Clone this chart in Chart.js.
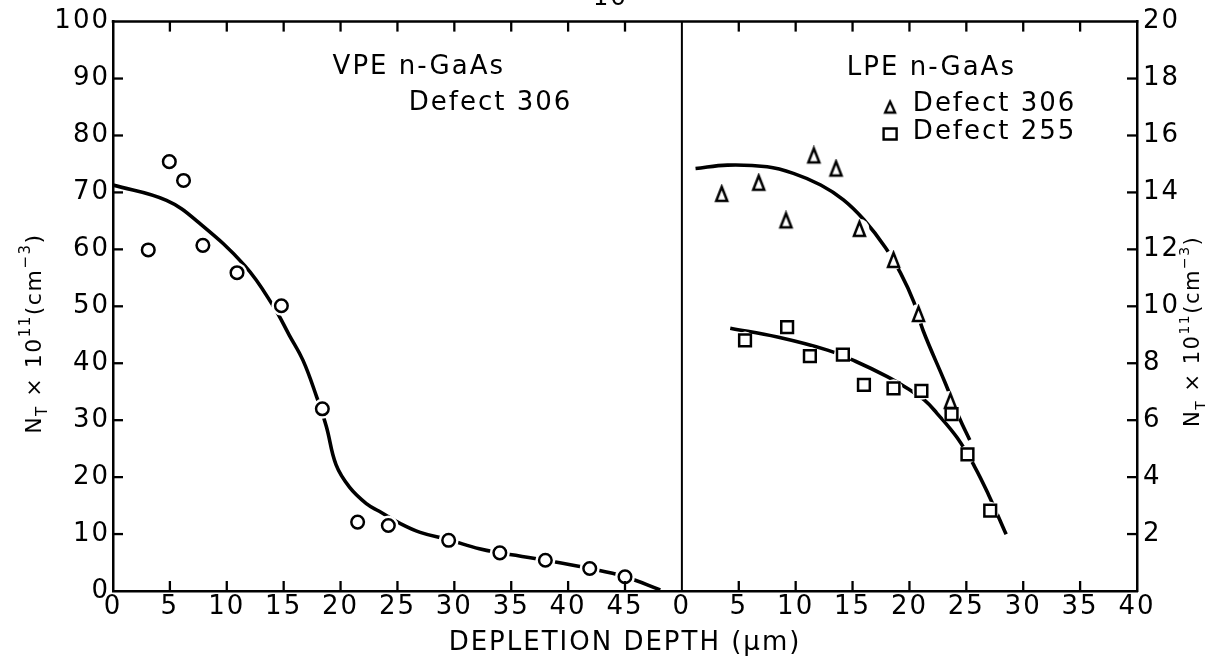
<!DOCTYPE html>
<html>
<head>
<meta charset="utf-8">
<script src="https://cdn.jsdelivr.net/npm/chart.js@4.4.1/dist/chart.umd.min.js"></script>
<style>
html,body{margin:0;padding:0;background:#fff;overflow:hidden}
#wrap{width:1211px;height:664px}
</style>
</head>
<body>
<div id="wrap"><canvas id="c" width="1211" height="664"></canvas></div>
<script>
// ---------------- data ----------------
// Left panel: VPE n-GaAs, Defect 306 (depth in µm, N_T in 1e11 cm^-3, left axis 0-100)
const vpeDepth = [3.1, 4.95, 6.2, 7.9, 10.9, 14.8, 18.4, 21.5, 24.2, 29.5, 34.0, 38.0, 41.9, 45.0];
const vpeNT    = [59.9, 75.4, 72.1, 60.7, 55.9, 50.1, 32.0, 12.1, 11.5, 8.9, 6.7, 5.4, 3.95, 2.5];
const vpeFitDepth = [0, 4.7, 7.6, 11.6, 14.1, 15.5, 16.7, 17.9, 18.75, 19.6, 20.8, 22.3, 23.4, 25.3, 27.0, 29.5, 32.2, 34.0, 38.0, 41.9, 45.0, 48.1];
const vpeFitNT    = [71.3, 68.6, 64.6, 57.1, 50.0, 44.9, 40.5, 34.1, 28.9, 22.2, 18.2, 15.3, 14.0, 11.8, 10.3, 9.0, 7.4, 6.7, 5.4, 3.95, 2.5, 0.2];

// Right panel: LPE n-GaAs (depth in µm, N_T in 1e11 cm^-3, right axis 0-20)
const lpe306Depth = [3.5, 6.75, 9.15, 11.6, 13.55, 15.6, 18.6, 20.8, 23.6];
const lpe306NT    = [13.95, 14.34, 13.02, 15.3, 14.84, 12.72, 11.63, 9.73, 6.68];
const lpe306FitDepth = [1.2, 4.0, 7.5, 9.8, 12.2, 14.2, 16.0, 17.9, 19.2, 20.4, 21.2, 23.1, 24.4, 25.3];
const lpe306FitNT    = [14.84, 14.96, 14.9, 14.67, 14.26, 13.74, 13.04, 12.06, 11.18, 10.14, 9.15, 7.35, 6.07, 5.3];

const lpe255Depth = [5.55, 9.25, 11.25, 14.15, 16.0, 18.6, 21.05, 23.7, 25.1, 27.1];
const lpe255NT    = [8.8, 9.27, 8.25, 8.3, 7.24, 7.12, 7.03, 6.21, 4.8, 2.82];
const lpe255FitDepth = [4.25, 8.4, 12.8, 15.25, 18.05, 19.8, 21.3, 22.4, 24.2, 25.7, 27.0, 28.5];
const lpe255FitNT    = [9.23, 8.92, 8.46, 8.07, 7.53, 7.12, 6.71, 6.25, 5.38, 4.39, 3.34, 1.99];

// axes / ticks
const leftPanelMax = 50;   // left panel spans 0-50 µm, right panel 0-40 µm
const rightPanelMax = 40;
const xStep = 5;
const leftYMax = 100, leftYStep = 10;
const rightYMax = 20, rightYStep = 2;

// texts
const xTitle = 'DEPLETION DEPTH (\u03bcm)';
const yTitleParts = ['N', 'T', ' \u00d7 10', '11', '(cm', '\u22123', ')'];
const vpeLabels = ['VPE n-GaAs', 'Defect 306'];
const lpeLabel = 'LPE n-GaAs';
const legendLabels = ['Defect 306', 'Defect 255'];
const pageNumber = '16';

// ---------------- chart ----------------
const FONT = '"DejaVu Sans", "Liberation Sans", sans-serif';
const pts = (xs, ys, off) => xs.map((v, i) => ({ x: v + off, y: ys[i] }));

function makeTriangle(w, h, lw) {
  const c = document.createElement('canvas');
  const pad = Math.ceil(lw);
  c.width = Math.ceil(w + 2 * pad);
  c.height = Math.ceil(h + 2 * pad);
  const g = c.getContext('2d');
  g.lineWidth = lw; g.lineJoin = 'miter';
  g.strokeStyle = '#000'; g.fillStyle = '#fff';
  g.beginPath();
  g.moveTo(c.width / 2, pad);
  g.lineTo(c.width / 2 + w / 2, pad + h);
  g.lineTo(c.width / 2 - w / 2, pad + h);
  g.closePath();
  g.fill(); g.stroke();
  return c;
}
const triImg = makeTriangle(11, 14, 2.5);
const triLegendImg = makeTriangle(10, 11, 2.3);

const lineDs = (data, axis) => ({
  data, yAxisID: axis, showLine: true, borderColor: '#000', borderWidth: 3.6,
  pointRadius: 0, fill: false, tension: 0.4, order: 5
});
const haloDs = (data, axis, r) => ({
  data, yAxisID: axis, showLine: false, pointRadius: r, pointBorderWidth: 0,
  pointBackgroundColor: '#fff', pointBorderColor: '#fff', order: 3
});
const markDs = (data, axis, style, r) => ({
  data, yAxisID: axis, showLine: false, pointStyle: style, pointRadius: r,
  pointBorderWidth: 2.5, pointBorderColor: '#000', pointBackgroundColor: '#fff', order: 1
});

const vpePts = pts(vpeDepth, vpeNT, 0);
const l306Pts = pts(lpe306Depth, lpe306NT, leftPanelMax);
const l255Pts = pts(lpe255Depth, lpe255NT, leftPanelMax);

const datasets = [
  lineDs(pts(vpeFitDepth, vpeFitNT, 0), 'y'),
  lineDs(pts(lpe306FitDepth, lpe306FitNT, leftPanelMax), 'y2'),
  lineDs(pts(lpe255FitDepth, lpe255FitNT, leftPanelMax), 'y2'),
  haloDs(vpePts, 'y', 10),
  haloDs(l306Pts, 'y2', 10),
  haloDs(l255Pts, 'y2', 9),
  markDs(vpePts, 'y', 'circle', 6.3),
  markDs(l306Pts, 'y2', triImg, 7),
  markDs(l255Pts, 'y2', 'rect', 8.3)
];

const spacingPlugin = {
  id: 'spacing',
  beforeUpdate(chart) { chart.ctx.letterSpacing = '2px'; },
  beforeDraw(chart) {
    const ctx = chart.ctx;
    ctx.letterSpacing = '2px';
    ctx.save();
    ctx.fillStyle = '#fff';
    ctx.fillRect(0, 0, chart.width, chart.height);
    ctx.restore();
  }
};

function drawRich(ctx, parts, cx, cy, size) {
  const small = Math.round(size * 0.66);
  const spec = [
    { f: size, dy: 0 }, { f: small, dy: size * 0.27 }, { f: size, dy: 0 },
    { f: small, dy: -size * 0.5 }, { f: size, dy: 0 }, { f: small, dy: -size * 0.5 }, { f: size, dy: 0 }
  ];
  ctx.save();
  ctx.letterSpacing = '1.5px';
  ctx.translate(cx, cy);
  ctx.rotate(-Math.PI / 2);
  ctx.fillStyle = '#000';
  ctx.textBaseline = 'alphabetic';
  ctx.textAlign = 'left';
  let total = 0;
  const widths = parts.map((t, i) => {
    ctx.font = spec[i].f + 'px ' + FONT;
    const w = ctx.measureText(t).width;
    total += w;
    return w;
  });
  let xx = -total / 2;
  parts.forEach((t, i) => {
    ctx.font = spec[i].f + 'px ' + FONT;
    ctx.fillText(t, xx, spec[i].dy);
    xx += widths[i];
  });
  ctx.restore();
}

const framePlugin = {
  id: 'frame',
  afterDraw(chart) {
    const { ctx, chartArea: { left, right, top, bottom }, scales: { x, y, y2 } } = chart;
    ctx.save();
    ctx.strokeStyle = '#000';
    ctx.fillStyle = '#000';
    const seg = (x1, y1, x2, y2_) => { ctx.beginPath(); ctx.moveTo(x1, y1); ctx.lineTo(x2, y2_); ctx.stroke(); };
    // top border
    ctx.lineWidth = 2.5;
    seg(left - 1.25, top, right + 1.25, top);
    // panel divider
    ctx.lineWidth = 2;
    const xd = x.getPixelForValue(leftPanelMax);
    seg(xd, top, xd, bottom);
    // inward tick marks
    ctx.lineWidth = 2.3;
    const tl = 10;
    x.ticks.forEach(t => {
      if (t.value === 0 || t.value === leftPanelMax || t.value === x.max) return;
      const px = x.getPixelForValue(t.value);
      seg(px, bottom, px, bottom - tl);
      seg(px, top, px, top + tl);
    });
    y.ticks.forEach(t => {
      if (t.value === 0 || t.value === y.max) return;
      const py = y.getPixelForValue(t.value);
      seg(left, py, left + tl, py);
    });
    y2.ticks.forEach(t => {
      if (t.value === 0 || t.value === y2.max) return;
      const py = y2.getPixelForValue(t.value);
      seg(right, py, right - tl, py);
    });

    // annotation texts
    ctx.letterSpacing = '2px';
    ctx.font = '26px ' + FONT;
    ctx.textBaseline = 'middle';
    ctx.textAlign = 'left';
    ctx.fillText(vpeLabels[0], x.getPixelForValue(19.3), y.getPixelForValue(92.0));
    ctx.fillText(vpeLabels[1], x.getPixelForValue(26.0), y.getPixelForValue(85.6));
    ctx.fillText(lpeLabel, x.getPixelForValue(leftPanelMax + 14.5), y2.getPixelForValue(18.35));
    ctx.fillText(legendLabels[0], x.getPixelForValue(leftPanelMax + 20.3), y2.getPixelForValue(17.1));
    ctx.fillText(legendLabels[1], x.getPixelForValue(leftPanelMax + 20.3), y2.getPixelForValue(16.1));
    // legend symbols
    const lx = x.getPixelForValue(leftPanelMax + 18.3);
    const ly1 = y2.getPixelForValue(17.0), ly2 = y2.getPixelForValue(16.05);
    ctx.drawImage(triLegendImg, lx - triLegendImg.width / 2, ly1 - triLegendImg.height / 2);
    ctx.lineWidth = 2.4;
    ctx.fillStyle = '#fff';
    ctx.beginPath(); ctx.rect(lx - 6.5, ly2 - 5.5, 13, 11); ctx.fill(); ctx.stroke();
    ctx.fillStyle = '#000';

    // page number (cut at top edge)
    ctx.font = '24px ' + FONT;
    ctx.textAlign = 'center';
    ctx.textBaseline = 'alphabetic';
    ctx.fillText(pageNumber, x.getPixelForValue(43.7), 5);

    // y axis titles with sub/superscripts
    drawRich(ctx, yTitleParts, 41, y.getPixelForValue(45.2), 22);
    drawRich(ctx, yTitleParts, 1199, y.getPixelForValue(45.6), 21);
    ctx.restore();
  }
};

const tickFont = { family: FONT, size: 26 };

new Chart(document.getElementById('c'), {
  type: 'scatter',
  data: { datasets },
  options: {
    responsive: false,
    animation: false,
    events: [],
    layout: { padding: { top: 18, left: 0, right: 0, bottom: 0 } },
    plugins: { legend: { display: false }, tooltip: { enabled: false } },
    scales: {
      x: {
        type: 'linear', position: 'bottom', min: 0, max: leftPanelMax + rightPanelMax,
        afterFit(s) { s.height = 73; },
        ticks: {
          stepSize: xStep, autoSkip: false, maxRotation: 0, padding: 1, color: '#000', font: tickFont,
          callback: v => (v < leftPanelMax ? String(v) : String(v - leftPanelMax))
        },
        grid: { display: false, drawTicks: false },
        border: { display: true, color: '#000', width: 2.5 },
        title: { display: true, text: xTitle, color: '#000', font: { family: FONT, size: 26 }, padding: { top: 0, bottom: 5 } }
      },
      y: {
        position: 'left', min: 0, max: leftYMax,
        afterFit(s) { s.width = 113; },
        ticks: { stepSize: leftYStep, autoSkip: false, padding: 3, color: '#000', font: tickFont },
        grid: { display: false, drawTicks: false },
        border: { display: true, color: '#000', width: 2.5 }
      },
      y2: {
        position: 'right', min: 0, max: rightYMax,
        afterFit(s) { s.width = 74; },
        ticks: { stepSize: rightYStep, autoSkip: false, padding: 6, color: '#000', font: tickFont,
                 callback: v => (v === 0 ? '' : String(v)) },
        grid: { display: false, drawTicks: false },
        border: { display: true, color: '#000', width: 2.5 }
      }
    }
  },
  plugins: [spacingPlugin, framePlugin]
});
</script>
</body>
</html>
